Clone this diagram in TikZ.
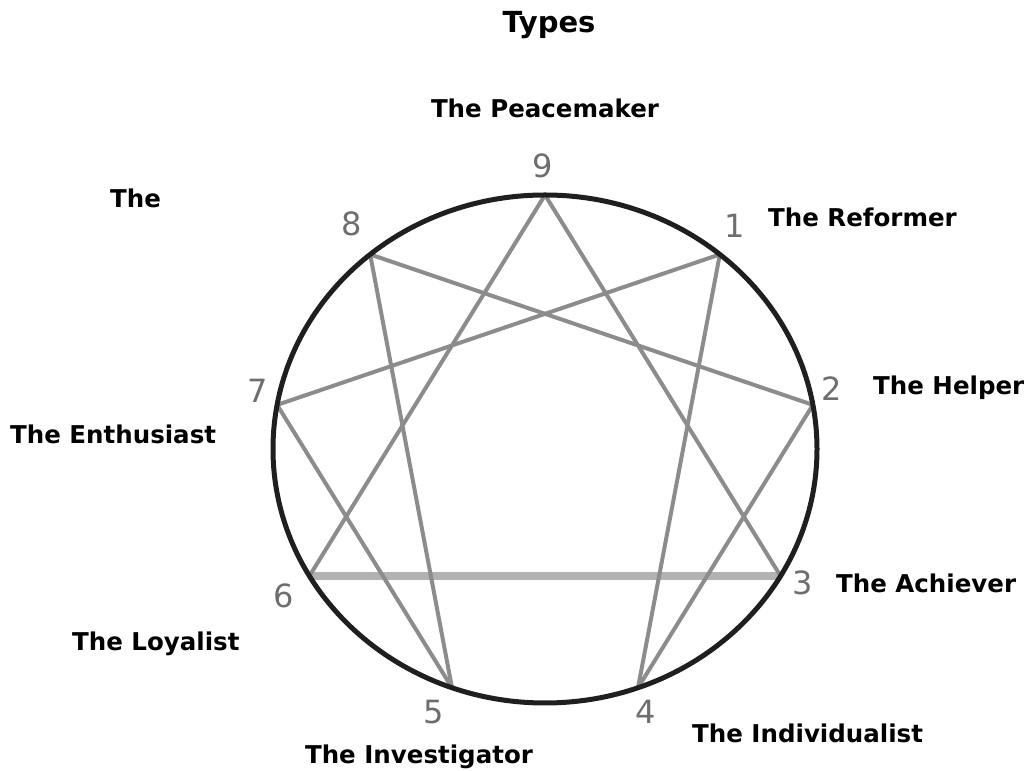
\documentclass[tikz,border=0pt]{standalone}
\usepackage{fontspec}
\setmainfont{DejaVu Sans}
\usepackage{tikz}
\usetikzlibrary{calc}

\definecolor{chordgray}{HTML}{8C8C8C}
\definecolor{basegray}{HTML}{B2B2B2}
\definecolor{numgray}{HTML}{6E6E6E}

\tikzset{
  typelabel/.style={font=\fontsize{24.5}{29}\selectfont\bfseries, inner sep=0pt, anchor=base west},
  typenum/.style={font=\fontsize{32}{38}\selectfont, text=numgray, inner sep=0pt},
  chord/.style={chordgray, line width=4pt, line cap=round},
}

\begin{document}
\begin{tikzpicture}[x=1pt,y=1pt]
        \useasboundingbox (0,0) rectangle (1026,771);

        % Ellipse (center and radii)
        \def\cx{545}
        \def\cy{322}
        \def\rx{272}
        \def\ry{254}

        % Points on the circle
        \coordinate (p9) at ($(\cx,\cy)+(90:{\rx} and {\ry})$);
        \coordinate (p1) at ($(\cx,\cy)+(50:{\rx} and {\ry})$);
        \coordinate (p2) at ($(\cx,\cy)+(10:{\rx} and {\ry})$);
        \coordinate (p3) at ($(\cx,\cy)+(-30:{\rx} and {\ry})$);
        \coordinate (p4) at ($(\cx,\cy)+(-70:{\rx} and {\ry})$);
        \coordinate (p5) at ($(\cx,\cy)+(-110:{\rx} and {\ry})$);
        \coordinate (p6) at ($(\cx,\cy)+(-150:{\rx} and {\ry})$);
        \coordinate (p7) at ($(\cx,\cy)+(170:{\rx} and {\ry})$);
        \coordinate (p8) at ($(\cx,\cy)+(130:{\rx} and {\ry})$);

        % Base of the triangle
        \draw[basegray, line width=7.5pt] (p3) -- (p6);

        % Triangle and hexad
        \draw[chord] (p9) -- (p3);
        \draw[chord] (p9) -- (p6);
        \draw[chord] (p1) -- (p4);
        \draw[chord] (p4) -- (p2);
        \draw[chord] (p2) -- (p8);
        \draw[chord] (p8) -- (p5);
        \draw[chord] (p5) -- (p7);
        \draw[chord] (p7) -- (p1);

        % Circle
        \draw[black!88, line width=5pt] (\cx,\cy) ellipse ({\rx} and {\ry});

        % Numbers
        \node[typenum] (n9) at (543,605) {9};
        \node[typenum] (n1) at (735,545) {1};
        \node[typenum] (n2) at (832,382) {2};
        \node[typenum] (n3) at (803,188) {3};
        \node[typenum] (n4) at (646,59) {4};
        \node[typenum] (n5) at (434,59) {5};
        \node[typenum] (n6) at (284,175) {6};
        \node[typenum] (n7) at (258,380) {7};
        \node[typenum] (n8) at (352,547) {8};

        % Title
        \node[font=\fontsize{29}{34}\selectfont\bfseries, inner sep=0pt, anchor=base] (title) at (549,738) {Types};

        % Type names
        \node[typelabel, anchor=base] (t9) at (545,653) {The Peacemaker};
        \node[typelabel] (t8) at (110,563) {The};
        \node[typelabel] (t1) at (768,544) {The Reformer};
        \node[typelabel] (t2) at (873,376) {The Helper};
        \node[typelabel] (t7) at (10,327) {The Enthusiast};
        \node[typelabel] (t3) at (836,178) {The Achiever};
        \node[typelabel] (t6) at (72,120) {The Loyalist};
        \node[typelabel, anchor=base] (t5) at (419,7) {The Investigator};
        \node[typelabel] (t4) at (692,28) {The Individualist};
    \end{tikzpicture}
\end{document}
